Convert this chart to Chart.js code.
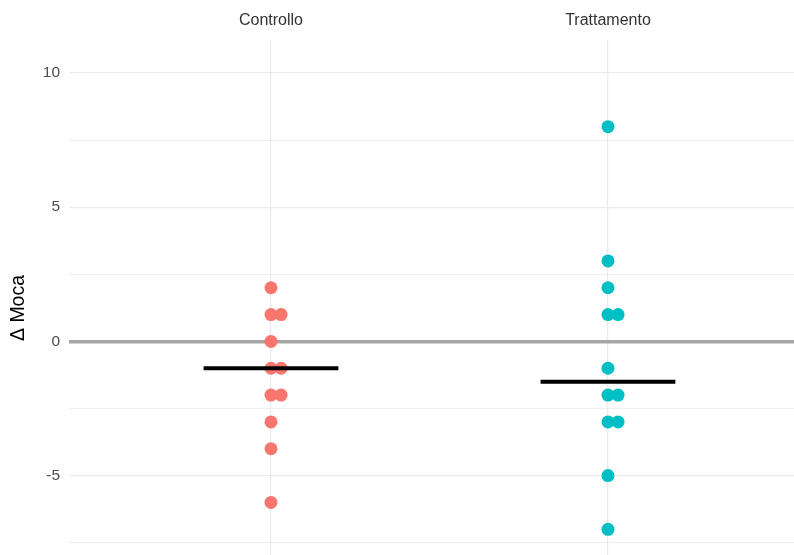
<!doctype html>
<html lang="it">
  <head>
    <meta charset="utf-8">
    <title>Δ Moca per gruppo</title>
    <style>
      * {
        margin: 0;
        padding: 0;
      }
      body {
        background: #fff;
        overflow: hidden;
      }
      /* the panel runs a little past the bottom edge of the window */
      .chartBox {
        width: 794px;
        height: 576px;
      }
    </style>
  </head>
  <body>
    <div class="chartBox">
      <canvas id="myChart"></canvas>
    </div>
    <script src="https://cdn.jsdelivr.net/npm/chart.js/dist/chart.umd.min.js"></script>
    <script>
    // data block
    const groups = ['Controllo', 'Trattamento'];
    const controllo = [2, 1, 1, 0, -1, -1, -2, -2, -3, -4, -6];
    const trattamento = [8, 3, 2, 1, 1, -1, -2, -2, -3, -3, -5, -7];
    const medians = [-1, -1.5];
    const yTicks = [-7.5, -5, -2.5, 0, 2.5, 5, 7.5, 10];
    const colors = ['#F8766D', '#00BFC4'];

    // repeated values get nudged to the right so both dots show
    function dodge(values, xPos) {
      const seen = {};
      return values.map(v => {
        const k = seen[v] || 0;
        seen[v] = k + 1;
        return { x: xPos + k * 0.03, y: v };
      });
    }

    // short horizontal bar for the median of each group
    function medianBar(i) {
      return {
        type: 'line',
        data: [
          { x: i + 1 - 0.2, y: medians[i] },
          { x: i + 1 + 0.2, y: medians[i] }
        ],
        borderColor: '#000',
        borderWidth: 4,
        borderCapStyle: 'butt',
        pointRadius: 0,
        order: 0
      };
    }

    const FONT = "'Liberation Sans', Arial, sans-serif";

    const data = {
      datasets: [
        {
          data: dodge(controllo, 1),
          backgroundColor: colors[0],
          borderWidth: 0,
          pointRadius: 6.5,
          order: 1
        },
        {
          data: dodge(trattamento, 2),
          backgroundColor: colors[1],
          borderWidth: 0,
          pointRadius: 6.5,
          order: 1
        },
        medianBar(0),
        medianBar(1)
      ]
    };

    // no extra room around the panel for edge labels
    function noEdgePadding(axis) {
      axis.paddingTop = 0;
      axis.paddingBottom = 0;
      axis.paddingLeft = 0;
      axis.paddingRight = 0;
    }

    const config = {
      type: 'scatter',
      data,
      options: {
        responsive: true,
        maintainAspectRatio: false,
        animation: false,
        layout: {
          autoPadding: false,
          padding: 0
        },
        plugins: {
          legend: { display: false },
          tooltip: { enabled: false }
        },
        scales: {
          x: {
            type: 'linear',
            position: 'top',
            min: 0.4006,
            max: 2.552,
            afterBuildTicks: (axis) => {
              axis.ticks = groups.map((g, i) => ({ value: i + 1 }));
            },
            afterFit: (axis) => {
              axis.height = 40;
              noEdgePadding(axis);
            },
            border: { display: false },
            grid: {
              color: '#EBEBEB',
              lineWidth: 1.2,
              drawTicks: false
            },
            ticks: {
              padding: 10,
              color: '#333333',
              font: { family: FONT, size: 16 },
              callback: (v) => groups[Math.round(v) - 1]
            }
          },
          y: {
            min: -8.74,
            max: 11.23,
            afterBuildTicks: (axis) => {
              axis.ticks = yTicks.map(v => ({ value: v }));
            },
            afterFit: (axis) => {
              axis.width = 69;
              noEdgePadding(axis);
            },
            border: { display: false },
            grid: {
              drawTicks: false,
              color: (ctx) => ctx.tick && ctx.tick.value === 0 ? '#A6A6A6' : '#EBEBEB',
              lineWidth: (ctx) => {
                if (!ctx.tick) return 1;
                if (ctx.tick.value === 0) return 3.5;
                return Number.isInteger(ctx.tick.value / 5) ? 1.2 : 0.8;
              }
            },
            ticks: {
              padding: 9,
              color: '#4D4D4D',
              font: { family: FONT, size: 15.5 },
              callback: (v) => Number.isInteger(v / 5) ? v : ''
            },
            title: {
              display: true,
              text: 'Δ Moca',
              color: '#000',
              font: { family: FONT, size: 19.5 },
              padding: { top: 7, bottom: 0 }
            }
          }
        }
      }
    };

    const myChart = new Chart(document.getElementById('myChart'), config);
    </script>
  </body>
</html>
